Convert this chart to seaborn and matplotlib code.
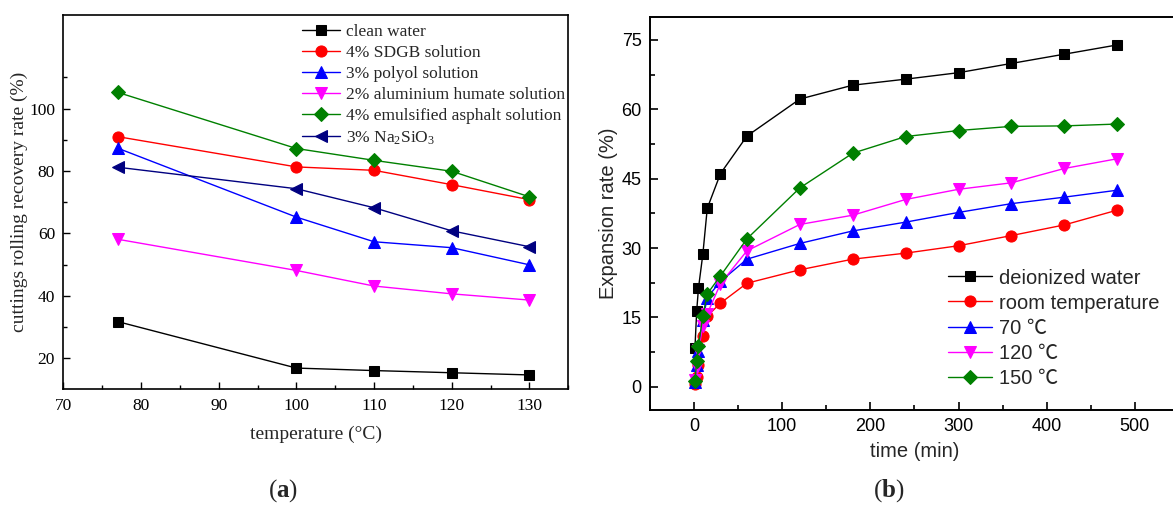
import numpy as np
import pandas as pd
import matplotlib
matplotlib.use("Agg")
import matplotlib.pyplot as plt
from matplotlib.ticker import MultipleLocator, FixedLocator
from matplotlib.font_manager import FontProperties
import seaborn as sns

# ---------------- data (a) ----------------
temps = [77, 100, 110, 120, 130]
a_labels = ["clean water", "4% SDGB solution", "3% polyol solution",
            "2% aluminium humate solution", "4% emulsified asphalt solution",
            "3% Na$_2$SiO$_3$"]
clean_water = [31.7, 16.8, 16.0, 15.3, 14.6]
sdgb = [91.0, 81.3, 80.2, 75.6, 70.8]
polyol = [87.3, 65.2, 57.3, 55.4, 49.9]
al_humate = [58.1, 48.1, 43.1, 40.6, 38.6]
asphalt = [105.2, 87.2, 83.4, 79.9, 71.7]
na2sio3 = [81.2, 74.3, 68.2, 60.8, 55.7]

# ---------------- data (b) ----------------
times = [1, 3, 5, 10, 15, 30, 60, 120, 180, 240, 300, 360, 420, 480]
b_labels = ["deionized water", "room temperature", "70 \u2103", "120 \u2103", "150 \u2103"]
deionized = [8.3, 16.4, 21.3, 28.7, 38.6, 46.1, 54.2, 62.2, 65.2, 66.5, 67.9, 69.9, 71.9, 73.9]
room_temp = [0.7, 2.2, 4.8, 11.0, 15.3, 18.1, 22.4, 25.3, 27.6, 28.9, 30.5, 32.7, 35.0, 38.2]
t70 = [1.0, 4.7, 7.8, 14.5, 19.3, 22.8, 27.6, 31.0, 33.7, 35.6, 37.7, 39.6, 41.0, 42.5]
t120 = [1.4, 4.4, 7.9, 13.2, 15.8, 22.3, 29.4, 35.1, 37.1, 40.5, 42.7, 44.1, 47.2, 49.3]
t150 = [1.3, 5.6, 8.8, 15.4, 20.1, 24.0, 32.0, 43.0, 50.5, 54.1, 55.4, 56.3, 56.4, 56.8]

sns.set_style("ticks")
plt.rcParams["mathtext.fontset"] = "custom"
plt.rcParams["mathtext.rm"] = "Liberation Serif"
plt.rcParams["mathtext.it"] = "Liberation Serif:italic"
plt.rcParams["mathtext.bf"] = "Liberation Serif:bold"
plt.rcParams["font.family"] = ["Liberation Serif", "DejaVu Serif"]

fig = plt.figure(figsize=(11.73, 5.09), dpi=100)
axA = fig.add_axes([0.0540, 0.2352, 0.4305, 0.7353])
axB = fig.add_axes([0.5541, 0.1945, 0.4510, 0.7727])

serif = ["Liberation Serif", "DejaVu Serif"]
sans = ["Liberation Sans", "Noto Sans CJK SC", "DejaVu Sans"]

# ---------- panel (a) ----------
a_series = [clean_water, sdgb, polyol, al_humate, asphalt, na2sio3]
a_colors = ["#000000", "#FF0000", "#0000FF", "#FF00FF", "#008000", "#000080"]
a_markers = ["s", "o", "^", "v", "D", "<"]
a_msize = [7.5, 8, 8, 8, 7, 8]
for vals, lab, c, m, ms in zip(a_series, a_labels, a_colors, a_markers, a_msize):
    sns.lineplot(x=temps, y=vals, ax=axA, color=c, marker=m, markersize=ms,
                 markeredgecolor=c, linewidth=1.0, label=lab)
axA.set_xlim(70, 135)
axA.set_ylim(10, 130)
axA.xaxis.set_major_locator(MultipleLocator(10))
axA.xaxis.set_minor_locator(MultipleLocator(5))
axA.yaxis.set_major_locator(FixedLocator([20, 40, 60, 80, 100]))
axA.yaxis.set_minor_locator(FixedLocator([30, 50, 70, 90, 110]))
axA.tick_params(which="both", direction="in", top=False, right=False, colors="black")
axA.tick_params(which="major", length=5, width=1.0, labelsize=12.5, pad=6)
axA.tick_params(which="minor", length=3, width=1.0)
for lab in axA.get_xticklabels() + axA.get_yticklabels():
    lab.set_family(serif)
for s in axA.spines.values():
    s.set_visible(True)
    s.set_linewidth(1.2)
    s.set_color("black")
axA.set_xlabel("temperature (\u00b0C)", family=serif, fontsize=14, labelpad=9)
axA.set_ylabel("cuttings rolling recovery rate (%)", family=serif, fontsize=14, labelpad=0.5)
legA = axA.legend(loc="upper left", bbox_to_anchor=(0.466, 0.985), frameon=False,
                  prop=FontProperties(family=serif, size=12.5), handlelength=2.2,
                  handletextpad=0.35, labelspacing=0.28, borderaxespad=0, borderpad=0.2)

# ---------- panel (b) ----------
b_series = [deionized, room_temp, t70, t120, t150]
b_colors = ["#000000", "#FF0000", "#0000FF", "#FF00FF", "#008000"]
b_markers = ["s", "o", "^", "v", "D"]
b_msize = [7.5, 8, 8, 8, 7.5]
for vals, lab, c, m, ms in zip(b_series, b_labels, b_colors, b_markers, b_msize):
    sns.lineplot(x=times, y=vals, ax=axB, color=c, marker=m, markersize=ms,
                 markeredgecolor=c, linewidth=1.0, label=lab)
axB.set_xlim(-50, 550)
axB.set_ylim(-5, 80)
axB.xaxis.set_major_locator(MultipleLocator(100))
axB.xaxis.set_minor_locator(MultipleLocator(50))
axB.yaxis.set_major_locator(FixedLocator([0, 15, 30, 45, 60, 75]))
axB.yaxis.set_minor_locator(FixedLocator([7.5, 22.5, 37.5, 52.5, 67.5]))
axB.tick_params(which="both", direction="in", top=False, right=False, colors="black")
axB.tick_params(which="major", length=6, width=1.2, labelsize=13, pad=6)
axB.tick_params(which="minor", length=3.5, width=1.2)
for lab in axB.get_xticklabels() + axB.get_yticklabels():
    lab.set_family(sans)
for s in axB.spines.values():
    s.set_visible(True)
    s.set_linewidth(1.4)
    s.set_color("black")
axB.set_xlabel("time (min)", family=sans, fontsize=14.5, labelpad=5)
axB.set_ylabel("Expansion rate (%)", family=sans, fontsize=14.5, labelpad=2.5)
legB = axB.legend(loc="upper left", bbox_to_anchor=(0.555, 0.37), frameon=False,
                  prop=FontProperties(family=sans, size=14.5), handlelength=2.2,
                  handletextpad=0.35, labelspacing=0.3, borderaxespad=0, borderpad=0.2)

fig.text(0.2413, 0.037, r"($\mathbf{a}$)", ha="center", va="center", fontsize=18, family=serif)
fig.text(0.7580, 0.037, r"($\mathbf{b}$)", ha="center", va="center", fontsize=18, family=serif)

fig.savefig("out.png", dpi=100)
